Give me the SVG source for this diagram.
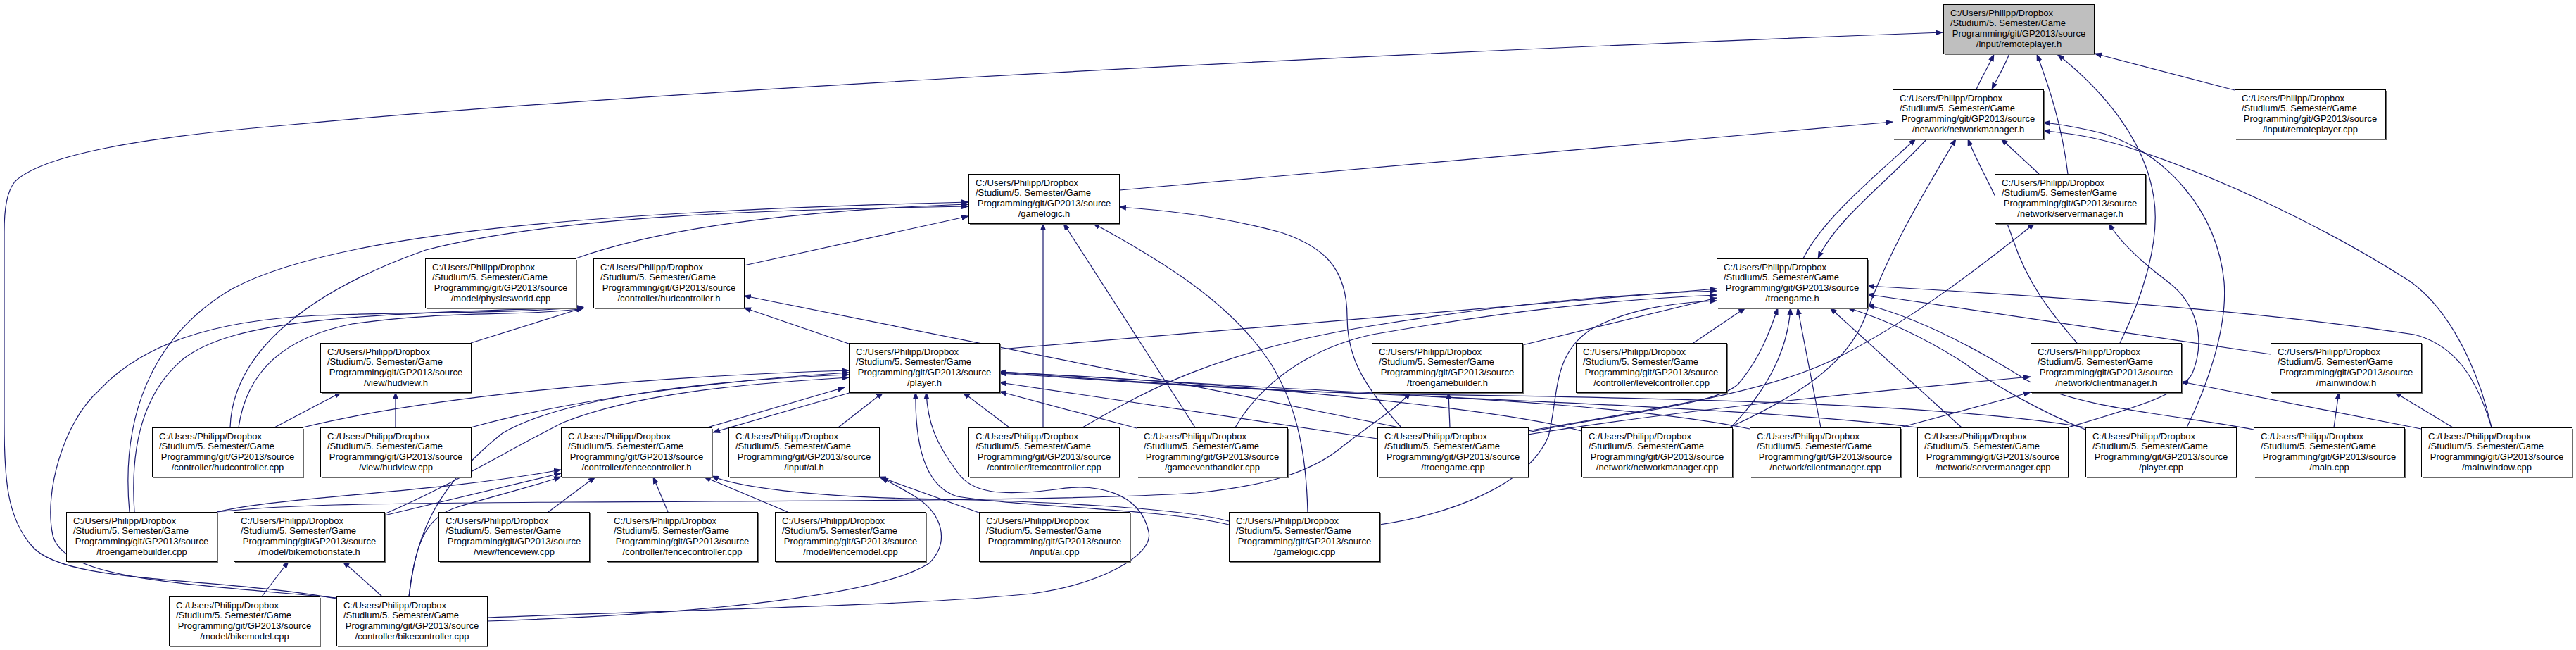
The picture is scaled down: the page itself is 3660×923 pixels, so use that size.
<svg xmlns="http://www.w3.org/2000/svg" width="3660" height="923" viewBox="0 0 3660 923">
<defs>
<style>
.s{fill:#6b6b6b}
.b{fill:#fff;stroke:#000;stroke-width:1}
.g{fill:#bfbfbf;stroke:#000;stroke-width:1}
text{font-family:"Liberation Sans",Arial,sans-serif;font-size:13px;fill:#000}
.l{text-anchor:start}
.c{text-anchor:middle}
.e{fill:none;stroke:#191970;stroke-width:1.2;marker-end:url(#a)}
</style>
<marker id="a" markerWidth="11" markerHeight="8" refX="10" refY="4" orient="auto" markerUnits="userSpaceOnUse"><path d="M0,0 L11,4 L0,8 z" fill="#191970"/></marker>
</defs>
<rect width="3660" height="923" fill="#fff"/>
<g id="edges">
<path class="e" d="M2808,127 C2815,110 2825,95 2833,77"/>
<path class="e" d="M2855,76 C2848,95 2838,110 2830,127"/>
<path class="e" d="M2938,247 C2930,180 2912,125 2894,77"/>
<path class="e" d="M3012,487 C3045,420 3070,340 3060,280 C3048,200 2990,130 2923,77"/>
<path class="e" d="M3175,128 L2976,76"/>
<path class="e" d="M478,850 C300,818 90,830 45,775 C10,735 6,680 6,600 L6,330 C6,295 10,272 21,258 C60,220 200,195 414,177 C800,140 1700,85 2760,46"/>
<path class="e" d="M1591,270 L2689,173"/>
<path class="e" d="M2562,367 C2590,310 2670,245 2722,197"/>
<path class="e" d="M2738,197 C2680,260 2610,310 2583,367"/>
<path class="e" d="M2897,247 L2843,197"/>
<path class="e" d="M2951,487 C2910,440 2880,400 2860,340 C2840,280 2810,235 2796,197"/>
<path class="e" d="M2457,607 C2560,560 2625,515 2650,450 C2685,350 2745,255 2779,197"/>
<path class="e" d="M3107,607 C3140,540 3165,460 3160,400 C3150,300 3080,220 2990,190 C2950,180 2925,176 2903,174"/>
<path class="e" d="M3540,607 C3520,520 3480,440 3425,400 C3300,320 3150,250 3020,208 C2970,193 2935,188 2903,186"/>
<path class="e" d="M818,367 C950,320 1150,298 1376,290"/>
<path class="e" d="M1057,377 L1376,307"/>
<path class="e" d="M184,727 C172,600 210,480 330,410 C480,330 850,300 1376,287"/>
<path class="e" d="M327,607 C330,510 420,420 605,355 C800,305 1100,298 1376,293"/>
<path class="e" d="M1482,607 L1482,317"/>
<path class="e" d="M1698,607 L1511,317"/>
<path class="e" d="M1858,727 C1856,650 1845,580 1806,517 C1750,430 1650,370 1553,317"/>
<path class="e" d="M1991,607 C1930,540 1914,500 1914,450 C1914,380 1880,350 1820,330 C1740,308 1650,298 1590,294"/>
<path class="e" d="M2171,612 C2350,580 2500,560 2600,513 C2700,465 2800,390 2891,317"/>
<path class="e" d="M2938,607 C3030,580 3100,560 3115,530 C3135,480 3120,430 3080,400 C3040,370 3010,340 2996,317"/>
<path class="e" d="M669,487 L829,437"/>
<path class="e" d="M1206,488 L1057,437"/>
<path class="e" d="M339,607 C350,530 400,480 500,460 C640,440 740,450 829,438"/>
<path class="e" d="M191,727 C185,640 200,560 260,510 C330,455 500,445 829,437"/>
<path class="e" d="M480,849 C250,828 90,822 75,760 C62,700 90,600 140,555 C200,490 300,455 450,448 C600,442 720,446 829,436"/>
<path class="e" d="M1988,607 L1057,420"/>
<path class="e" d="M1420,496 L2439,410"/>
<path class="e" d="M1538,607 C1620,560 1720,500 1947,463 C2150,430 2300,418 2439,413"/>
<path class="e" d="M1755,607 C1800,530 1880,490 1950,475 C2150,440 2300,425 2439,419"/>
<path class="e" d="M2163,490 L2439,423"/>
<path class="e" d="M1960,745 C2060,730 2170,690 2200,620 C2215,560 2205,500 2265,465 C2320,437 2380,430 2439,427"/>
<path class="e" d="M2406,487 L2480,437"/>
<path class="e" d="M2171,614 C2300,587 2440,575 2470,545 C2500,510 2515,470 2526,437"/>
<path class="e" d="M2459,607 C2510,555 2540,500 2544,437"/>
<path class="e" d="M2587,607 L2554,437"/>
<path class="e" d="M2787,607 L2600,437"/>
<path class="e" d="M2963,610 C2900,585 2830,545 2790,515 C2720,470 2660,448 2625,437"/>
<path class="e" d="M3202,610 C3100,590 2950,580 2880,540 C2800,490 2720,450 2653,433"/>
<path class="e" d="M3226,503 L2653,418"/>
<path class="e" d="M3540,607 C3520,540 3490,490 3430,475 C3200,440 2900,420 2653,406"/>
<path class="e" d="M390,607 L485,557"/>
<path class="e" d="M562,607 L562,557"/>
<path class="e" d="M1005,607 L1200,550"/>
<path class="e" d="M1210,557 L1013,614"/>
<path class="e" d="M1191,607 L1255,557"/>
<path class="e" d="M430,607 C600,565 900,535 1206,526"/>
<path class="e" d="M669,607 C800,570 1000,542 1206,529"/>
<path class="e" d="M581,847 C590,760 620,690 714,615 C800,565 1000,540 1206,532"/>
<path class="e" d="M546,730 C640,690 720,640 800,600 C900,560 1050,545 1206,536"/>
<path class="e" d="M1434,607 L1368,557"/>
<path class="e" d="M1615,608 L1420,556"/>
<path class="e" d="M1957,623 L1420,543"/>
<path class="e" d="M2247,612 C2150,585 1900,560 1700,545 C1600,538 1500,532 1420,528"/>
<path class="e" d="M2486,609 C2350,580 2100,565 1800,550 C1650,542 1520,533 1420,528"/>
<path class="e" d="M2724,607 C2550,585 2200,570 1800,553 C1650,545 1520,535 1420,529"/>
<path class="e" d="M2963,607 C2780,575 2400,565 2000,560 C1750,555 1550,538 1420,530"/>
<path class="e" d="M1746,745 C1650,722 1450,720 1360,705 C1310,690 1300,620 1301,557"/>
<path class="e" d="M692,877 C1000,865 1300,860 1466,843 C1560,830 1640,790 1632,755 C1620,700 1560,685 1500,695 C1420,705 1380,700 1360,670 C1330,630 1318,600 1316,557"/>
<path class="e" d="M2060,607 L2058,557"/>
<path class="e" d="M308,727 C400,717 500,715 800,713 C1100,711 1500,712 1700,700 C1800,690 1860,670 1900,640 C1950,600 1985,580 2004,557"/>
<path class="e" d="M2171,617 C2400,580 2700,552 2885,535"/>
<path class="e" d="M2700,607 L2885,557"/>
<path class="e" d="M3440,609 L3099,542"/>
<path class="e" d="M3316,607 L3323,557"/>
<path class="e" d="M3485,607 L3402,557"/>
<path class="e" d="M308,727 C400,705 620,700 797,667"/>
<path class="e" d="M546,732 L797,672"/>
<path class="e" d="M581,847 C590,780 600,735 650,720 C700,705 760,690 797,677"/>
<path class="e" d="M779,727 L846,677"/>
<path class="e" d="M949,727 L928,677"/>
<path class="e" d="M1119,727 L1000,677"/>
<path class="e" d="M1746,740 C1680,722 1500,712 1300,708 C1150,705 1050,692 1011,676"/>
<path class="e" d="M1391,728 L1249,677"/>
<path class="e" d="M692,882 C1000,872 1250,845 1320,800 C1350,770 1340,730 1300,705 C1280,693 1265,685 1252,678"/>
<path class="e" d="M372,847 L410,797"/>
<path class="e" d="M543,847 L487,797"/>
</g>
<g id="n_remoteplayer_h" transform="translate(2761,6)"><rect class="s" x="2" y="2" width="214" height="70"/><rect class="g" x="0.5" y="0.5" width="214" height="70"/><text><tspan class="l" x="10" y="16.5">C:/Users/Philipp/Dropbox</tspan><tspan class="l" x="10" y="31.2">/Studium/5. Semester/Game</tspan><tspan class="c" x="107.5" y="45.9">Programming/git/GP2013/source</tspan><tspan class="c" x="107.5" y="60.6">/input/remoteplayer.h</tspan></text></g>
<g id="n_networkmanager_h" transform="translate(2689,127)"><rect class="s" x="2" y="2" width="214" height="70"/><rect class="b" x="0.5" y="0.5" width="214" height="70"/><text><tspan class="l" x="10" y="16.5">C:/Users/Philipp/Dropbox</tspan><tspan class="l" x="10" y="31.2">/Studium/5. Semester/Game</tspan><tspan class="c" x="107.5" y="45.9">Programming/git/GP2013/source</tspan><tspan class="c" x="107.5" y="60.6">/network/networkmanager.h</tspan></text></g>
<g id="n_remoteplayer_cpp" transform="translate(3175,127)"><rect class="s" x="2" y="2" width="214" height="70"/><rect class="b" x="0.5" y="0.5" width="214" height="70"/><text><tspan class="l" x="10" y="16.5">C:/Users/Philipp/Dropbox</tspan><tspan class="l" x="10" y="31.2">/Studium/5. Semester/Game</tspan><tspan class="c" x="107.5" y="45.9">Programming/git/GP2013/source</tspan><tspan class="c" x="107.5" y="60.6">/input/remoteplayer.cpp</tspan></text></g>
<g id="n_gamelogic_h" transform="translate(1376,247)"><rect class="s" x="2" y="2" width="214" height="70"/><rect class="b" x="0.5" y="0.5" width="214" height="70"/><text><tspan class="l" x="10" y="16.5">C:/Users/Philipp/Dropbox</tspan><tspan class="l" x="10" y="31.2">/Studium/5. Semester/Game</tspan><tspan class="c" x="107.5" y="45.9">Programming/git/GP2013/source</tspan><tspan class="c" x="107.5" y="60.6">/gamelogic.h</tspan></text></g>
<g id="n_servermanager_h" transform="translate(2834,247)"><rect class="s" x="2" y="2" width="214" height="70"/><rect class="b" x="0.5" y="0.5" width="214" height="70"/><text><tspan class="l" x="10" y="16.5">C:/Users/Philipp/Dropbox</tspan><tspan class="l" x="10" y="31.2">/Studium/5. Semester/Game</tspan><tspan class="c" x="107.5" y="45.9">Programming/git/GP2013/source</tspan><tspan class="c" x="107.5" y="60.6">/network/servermanager.h</tspan></text></g>
<g id="n_physicsworld_cpp" transform="translate(604,367)"><rect class="s" x="2" y="2" width="214" height="70"/><rect class="b" x="0.5" y="0.5" width="214" height="70"/><text><tspan class="l" x="10" y="16.5">C:/Users/Philipp/Dropbox</tspan><tspan class="l" x="10" y="31.2">/Studium/5. Semester/Game</tspan><tspan class="c" x="107.5" y="45.9">Programming/git/GP2013/source</tspan><tspan class="c" x="107.5" y="60.6">/model/physicsworld.cpp</tspan></text></g>
<g id="n_hudcontroller_h" transform="translate(843,367)"><rect class="s" x="2" y="2" width="214" height="70"/><rect class="b" x="0.5" y="0.5" width="214" height="70"/><text><tspan class="l" x="10" y="16.5">C:/Users/Philipp/Dropbox</tspan><tspan class="l" x="10" y="31.2">/Studium/5. Semester/Game</tspan><tspan class="c" x="107.5" y="45.9">Programming/git/GP2013/source</tspan><tspan class="c" x="107.5" y="60.6">/controller/hudcontroller.h</tspan></text></g>
<g id="n_troengame_h" transform="translate(2439,367)"><rect class="s" x="2" y="2" width="214" height="70"/><rect class="b" x="0.5" y="0.5" width="214" height="70"/><text><tspan class="l" x="10" y="16.5">C:/Users/Philipp/Dropbox</tspan><tspan class="l" x="10" y="31.2">/Studium/5. Semester/Game</tspan><tspan class="c" x="107.5" y="45.9">Programming/git/GP2013/source</tspan><tspan class="c" x="107.5" y="60.6">/troengame.h</tspan></text></g>
<g id="n_hudview_h" transform="translate(455,487)"><rect class="s" x="2" y="2" width="214" height="70"/><rect class="b" x="0.5" y="0.5" width="214" height="70"/><text><tspan class="l" x="10" y="16.5">C:/Users/Philipp/Dropbox</tspan><tspan class="l" x="10" y="31.2">/Studium/5. Semester/Game</tspan><tspan class="c" x="107.5" y="45.9">Programming/git/GP2013/source</tspan><tspan class="c" x="107.5" y="60.6">/view/hudview.h</tspan></text></g>
<g id="n_player_h" transform="translate(1206,487)"><rect class="s" x="2" y="2" width="214" height="70"/><rect class="b" x="0.5" y="0.5" width="214" height="70"/><text><tspan class="l" x="10" y="16.5">C:/Users/Philipp/Dropbox</tspan><tspan class="l" x="10" y="31.2">/Studium/5. Semester/Game</tspan><tspan class="c" x="107.5" y="45.9">Programming/git/GP2013/source</tspan><tspan class="c" x="107.5" y="60.6">/player.h</tspan></text></g>
<g id="n_troengamebuilder_h" transform="translate(1949,487)"><rect class="s" x="2" y="2" width="214" height="70"/><rect class="b" x="0.5" y="0.5" width="214" height="70"/><text><tspan class="l" x="10" y="16.5">C:/Users/Philipp/Dropbox</tspan><tspan class="l" x="10" y="31.2">/Studium/5. Semester/Game</tspan><tspan class="c" x="107.5" y="45.9">Programming/git/GP2013/source</tspan><tspan class="c" x="107.5" y="60.6">/troengamebuilder.h</tspan></text></g>
<g id="n_levelcontroller_cpp" transform="translate(2239,487)"><rect class="s" x="2" y="2" width="214" height="70"/><rect class="b" x="0.5" y="0.5" width="214" height="70"/><text><tspan class="l" x="10" y="16.5">C:/Users/Philipp/Dropbox</tspan><tspan class="l" x="10" y="31.2">/Studium/5. Semester/Game</tspan><tspan class="c" x="107.5" y="45.9">Programming/git/GP2013/source</tspan><tspan class="c" x="107.5" y="60.6">/controller/levelcontroller.cpp</tspan></text></g>
<g id="n_clientmanager_h" transform="translate(2885,487)"><rect class="s" x="2" y="2" width="214" height="70"/><rect class="b" x="0.5" y="0.5" width="214" height="70"/><text><tspan class="l" x="10" y="16.5">C:/Users/Philipp/Dropbox</tspan><tspan class="l" x="10" y="31.2">/Studium/5. Semester/Game</tspan><tspan class="c" x="107.5" y="45.9">Programming/git/GP2013/source</tspan><tspan class="c" x="107.5" y="60.6">/network/clientmanager.h</tspan></text></g>
<g id="n_mainwindow_h" transform="translate(3226,487)"><rect class="s" x="2" y="2" width="214" height="70"/><rect class="b" x="0.5" y="0.5" width="214" height="70"/><text><tspan class="l" x="10" y="16.5">C:/Users/Philipp/Dropbox</tspan><tspan class="l" x="10" y="31.2">/Studium/5. Semester/Game</tspan><tspan class="c" x="107.5" y="45.9">Programming/git/GP2013/source</tspan><tspan class="c" x="107.5" y="60.6">/mainwindow.h</tspan></text></g>
<g id="n_hudcontroller_cpp" transform="translate(216,607)"><rect class="s" x="2" y="2" width="214" height="70"/><rect class="b" x="0.5" y="0.5" width="214" height="70"/><text><tspan class="l" x="10" y="16.5">C:/Users/Philipp/Dropbox</tspan><tspan class="l" x="10" y="31.2">/Studium/5. Semester/Game</tspan><tspan class="c" x="107.5" y="45.9">Programming/git/GP2013/source</tspan><tspan class="c" x="107.5" y="60.6">/controller/hudcontroller.cpp</tspan></text></g>
<g id="n_hudview_cpp" transform="translate(455,607)"><rect class="s" x="2" y="2" width="214" height="70"/><rect class="b" x="0.5" y="0.5" width="214" height="70"/><text><tspan class="l" x="10" y="16.5">C:/Users/Philipp/Dropbox</tspan><tspan class="l" x="10" y="31.2">/Studium/5. Semester/Game</tspan><tspan class="c" x="107.5" y="45.9">Programming/git/GP2013/source</tspan><tspan class="c" x="107.5" y="60.6">/view/hudview.cpp</tspan></text></g>
<g id="n_fencecontroller_h" transform="translate(797,607)"><rect class="s" x="2" y="2" width="214" height="70"/><rect class="b" x="0.5" y="0.5" width="214" height="70"/><text><tspan class="l" x="10" y="16.5">C:/Users/Philipp/Dropbox</tspan><tspan class="l" x="10" y="31.2">/Studium/5. Semester/Game</tspan><tspan class="c" x="107.5" y="45.9">Programming/git/GP2013/source</tspan><tspan class="c" x="107.5" y="60.6">/controller/fencecontroller.h</tspan></text></g>
<g id="n_ai_h" transform="translate(1035,607)"><rect class="s" x="2" y="2" width="214" height="70"/><rect class="b" x="0.5" y="0.5" width="214" height="70"/><text><tspan class="l" x="10" y="16.5">C:/Users/Philipp/Dropbox</tspan><tspan class="l" x="10" y="31.2">/Studium/5. Semester/Game</tspan><tspan class="c" x="107.5" y="45.9">Programming/git/GP2013/source</tspan><tspan class="c" x="107.5" y="60.6">/input/ai.h</tspan></text></g>
<g id="n_itemcontroller_cpp" transform="translate(1376,607)"><rect class="s" x="2" y="2" width="214" height="70"/><rect class="b" x="0.5" y="0.5" width="214" height="70"/><text><tspan class="l" x="10" y="16.5">C:/Users/Philipp/Dropbox</tspan><tspan class="l" x="10" y="31.2">/Studium/5. Semester/Game</tspan><tspan class="c" x="107.5" y="45.9">Programming/git/GP2013/source</tspan><tspan class="c" x="107.5" y="60.6">/controller/itemcontroller.cpp</tspan></text></g>
<g id="n_gameeventhandler_cpp" transform="translate(1615,607)"><rect class="s" x="2" y="2" width="214" height="70"/><rect class="b" x="0.5" y="0.5" width="214" height="70"/><text><tspan class="l" x="10" y="16.5">C:/Users/Philipp/Dropbox</tspan><tspan class="l" x="10" y="31.2">/Studium/5. Semester/Game</tspan><tspan class="c" x="107.5" y="45.9">Programming/git/GP2013/source</tspan><tspan class="c" x="107.5" y="60.6">/gameeventhandler.cpp</tspan></text></g>
<g id="n_troengame_cpp" transform="translate(1957,607)"><rect class="s" x="2" y="2" width="214" height="70"/><rect class="b" x="0.5" y="0.5" width="214" height="70"/><text><tspan class="l" x="10" y="16.5">C:/Users/Philipp/Dropbox</tspan><tspan class="l" x="10" y="31.2">/Studium/5. Semester/Game</tspan><tspan class="c" x="107.5" y="45.9">Programming/git/GP2013/source</tspan><tspan class="c" x="107.5" y="60.6">/troengame.cpp</tspan></text></g>
<g id="n_networkmanager_cpp" transform="translate(2247,607)"><rect class="s" x="2" y="2" width="214" height="70"/><rect class="b" x="0.5" y="0.5" width="214" height="70"/><text><tspan class="l" x="10" y="16.5">C:/Users/Philipp/Dropbox</tspan><tspan class="l" x="10" y="31.2">/Studium/5. Semester/Game</tspan><tspan class="c" x="107.5" y="45.9">Programming/git/GP2013/source</tspan><tspan class="c" x="107.5" y="60.6">/network/networkmanager.cpp</tspan></text></g>
<g id="n_clientmanager_cpp" transform="translate(2486,607)"><rect class="s" x="2" y="2" width="214" height="70"/><rect class="b" x="0.5" y="0.5" width="214" height="70"/><text><tspan class="l" x="10" y="16.5">C:/Users/Philipp/Dropbox</tspan><tspan class="l" x="10" y="31.2">/Studium/5. Semester/Game</tspan><tspan class="c" x="107.5" y="45.9">Programming/git/GP2013/source</tspan><tspan class="c" x="107.5" y="60.6">/network/clientmanager.cpp</tspan></text></g>
<g id="n_servermanager_cpp" transform="translate(2724,607)"><rect class="s" x="2" y="2" width="214" height="70"/><rect class="b" x="0.5" y="0.5" width="214" height="70"/><text><tspan class="l" x="10" y="16.5">C:/Users/Philipp/Dropbox</tspan><tspan class="l" x="10" y="31.2">/Studium/5. Semester/Game</tspan><tspan class="c" x="107.5" y="45.9">Programming/git/GP2013/source</tspan><tspan class="c" x="107.5" y="60.6">/network/servermanager.cpp</tspan></text></g>
<g id="n_player_cpp" transform="translate(2963,607)"><rect class="s" x="2" y="2" width="214" height="70"/><rect class="b" x="0.5" y="0.5" width="214" height="70"/><text><tspan class="l" x="10" y="16.5">C:/Users/Philipp/Dropbox</tspan><tspan class="l" x="10" y="31.2">/Studium/5. Semester/Game</tspan><tspan class="c" x="107.5" y="45.9">Programming/git/GP2013/source</tspan><tspan class="c" x="107.5" y="60.6">/player.cpp</tspan></text></g>
<g id="n_main_cpp" transform="translate(3202,607)"><rect class="s" x="2" y="2" width="214" height="70"/><rect class="b" x="0.5" y="0.5" width="214" height="70"/><text><tspan class="l" x="10" y="16.5">C:/Users/Philipp/Dropbox</tspan><tspan class="l" x="10" y="31.2">/Studium/5. Semester/Game</tspan><tspan class="c" x="107.5" y="45.9">Programming/git/GP2013/source</tspan><tspan class="c" x="107.5" y="60.6">/main.cpp</tspan></text></g>
<g id="n_mainwindow_cpp" transform="translate(3440,607)"><rect class="s" x="2" y="2" width="214" height="70"/><rect class="b" x="0.5" y="0.5" width="214" height="70"/><text><tspan class="l" x="10" y="16.5">C:/Users/Philipp/Dropbox</tspan><tspan class="l" x="10" y="31.2">/Studium/5. Semester/Game</tspan><tspan class="c" x="107.5" y="45.9">Programming/git/GP2013/source</tspan><tspan class="c" x="107.5" y="60.6">/mainwindow.cpp</tspan></text></g>
<g id="n_troengamebuilder_cpp" transform="translate(94,727)"><rect class="s" x="2" y="2" width="214" height="70"/><rect class="b" x="0.5" y="0.5" width="214" height="70"/><text><tspan class="l" x="10" y="16.5">C:/Users/Philipp/Dropbox</tspan><tspan class="l" x="10" y="31.2">/Studium/5. Semester/Game</tspan><tspan class="c" x="107.5" y="45.9">Programming/git/GP2013/source</tspan><tspan class="c" x="107.5" y="60.6">/troengamebuilder.cpp</tspan></text></g>
<g id="n_bikemotionstate_h" transform="translate(332,727)"><rect class="s" x="2" y="2" width="214" height="70"/><rect class="b" x="0.5" y="0.5" width="214" height="70"/><text><tspan class="l" x="10" y="16.5">C:/Users/Philipp/Dropbox</tspan><tspan class="l" x="10" y="31.2">/Studium/5. Semester/Game</tspan><tspan class="c" x="107.5" y="45.9">Programming/git/GP2013/source</tspan><tspan class="c" x="107.5" y="60.6">/model/bikemotionstate.h</tspan></text></g>
<g id="n_fenceview_cpp" transform="translate(623,727)"><rect class="s" x="2" y="2" width="214" height="70"/><rect class="b" x="0.5" y="0.5" width="214" height="70"/><text><tspan class="l" x="10" y="16.5">C:/Users/Philipp/Dropbox</tspan><tspan class="l" x="10" y="31.2">/Studium/5. Semester/Game</tspan><tspan class="c" x="107.5" y="45.9">Programming/git/GP2013/source</tspan><tspan class="c" x="107.5" y="60.6">/view/fenceview.cpp</tspan></text></g>
<g id="n_fencecontroller_cpp" transform="translate(862,727)"><rect class="s" x="2" y="2" width="214" height="70"/><rect class="b" x="0.5" y="0.5" width="214" height="70"/><text><tspan class="l" x="10" y="16.5">C:/Users/Philipp/Dropbox</tspan><tspan class="l" x="10" y="31.2">/Studium/5. Semester/Game</tspan><tspan class="c" x="107.5" y="45.9">Programming/git/GP2013/source</tspan><tspan class="c" x="107.5" y="60.6">/controller/fencecontroller.cpp</tspan></text></g>
<g id="n_fencemodel_cpp" transform="translate(1101,727)"><rect class="s" x="2" y="2" width="214" height="70"/><rect class="b" x="0.5" y="0.5" width="214" height="70"/><text><tspan class="l" x="10" y="16.5">C:/Users/Philipp/Dropbox</tspan><tspan class="l" x="10" y="31.2">/Studium/5. Semester/Game</tspan><tspan class="c" x="107.5" y="45.9">Programming/git/GP2013/source</tspan><tspan class="c" x="107.5" y="60.6">/model/fencemodel.cpp</tspan></text></g>
<g id="n_ai_cpp" transform="translate(1391,727)"><rect class="s" x="2" y="2" width="214" height="70"/><rect class="b" x="0.5" y="0.5" width="214" height="70"/><text><tspan class="l" x="10" y="16.5">C:/Users/Philipp/Dropbox</tspan><tspan class="l" x="10" y="31.2">/Studium/5. Semester/Game</tspan><tspan class="c" x="107.5" y="45.9">Programming/git/GP2013/source</tspan><tspan class="c" x="107.5" y="60.6">/input/ai.cpp</tspan></text></g>
<g id="n_gamelogic_cpp" transform="translate(1746,727)"><rect class="s" x="2" y="2" width="214" height="70"/><rect class="b" x="0.5" y="0.5" width="214" height="70"/><text><tspan class="l" x="10" y="16.5">C:/Users/Philipp/Dropbox</tspan><tspan class="l" x="10" y="31.2">/Studium/5. Semester/Game</tspan><tspan class="c" x="107.5" y="45.9">Programming/git/GP2013/source</tspan><tspan class="c" x="107.5" y="60.6">/gamelogic.cpp</tspan></text></g>
<g id="n_bikemodel_cpp" transform="translate(240,847)"><rect class="s" x="2" y="2" width="214" height="70"/><rect class="b" x="0.5" y="0.5" width="214" height="70"/><text><tspan class="l" x="10" y="16.5">C:/Users/Philipp/Dropbox</tspan><tspan class="l" x="10" y="31.2">/Studium/5. Semester/Game</tspan><tspan class="c" x="107.5" y="45.9">Programming/git/GP2013/source</tspan><tspan class="c" x="107.5" y="60.6">/model/bikemodel.cpp</tspan></text></g>
<g id="n_bikecontroller_cpp" transform="translate(478,847)"><rect class="s" x="2" y="2" width="214" height="70"/><rect class="b" x="0.5" y="0.5" width="214" height="70"/><text><tspan class="l" x="10" y="16.5">C:/Users/Philipp/Dropbox</tspan><tspan class="l" x="10" y="31.2">/Studium/5. Semester/Game</tspan><tspan class="c" x="107.5" y="45.9">Programming/git/GP2013/source</tspan><tspan class="c" x="107.5" y="60.6">/controller/bikecontroller.cpp</tspan></text></g>
</svg>
